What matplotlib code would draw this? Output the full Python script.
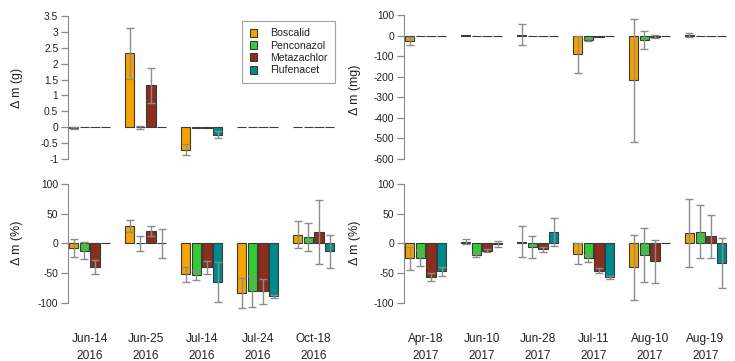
import numpy as np
import matplotlib
matplotlib.use("Agg")
import matplotlib.pyplot as plt
from matplotlib.patches import Patch

plt.rcParams['font.family'] = ['Liberation Sans', 'DejaVu Sans']

compounds = ["Boscalid", "Penconazol", "Metazachlor", "Flufenacet"]
colors = ["#F5A300", "#33CC33", "#8B2E1E", "#008B8B"]

dates_2016 = ["Jun-14\n2016", "Jun-25\n2016", "Jul-14\n2016", "Jul-24\n2016", "Oct-18\n2016"]
dates_2017 = ["Apr-18\n2017", "Jun-10\n2017", "Jun-28\n2017", "Jul-11\n2017", "Aug-10\n2017", "Aug-19\n2017"]

# 2016, absolute change (g)
bosc_g = [-0.03, 2.32, -0.70, 0.0, 0.01]
penc_g = [0.0, 0.0, -0.03, 0.0, 0.0]
meta_g = [0.0, 1.32, -0.02, 0.0, 0.0]
fluf_g = [0.0, 0.0, -0.23, 0.0, 0.0]
bosc_g_err = [0.03, 0.79, 0.16, 0, 0]
penc_g_err = [0, 0.05, 0, 0, 0]
meta_g_err = [0, 0.55, 0, 0, 0]
fluf_g_err = [0, 0, 0.12, 0, 0]

# 2017, absolute change (mg)
bosc_mg = [-26, 2, 5, -92, -218, 3]
penc_mg = [0, 0, 0, -22, -21, 0]
meta_mg = [-2, 0, -2, -6, -6, 0]
fluf_mg = [0, 0, 0, -2, 0, 0]
bosc_mg_err = [20, 0, 50, 92, 299, 11]
penc_mg_err = [0, 0, 0, 5, 43, 0]
meta_mg_err = [0, 0, 0, 0, 8, 0]
fluf_mg_err = [0, 0, 0, 0, 0, 0]

# 2016, relative change (%)
bosc_p16 = [-7, 29, -52, -83, 15]
penc_p16 = [-12, 0, -53, -80, 11]
meta_p16 = [-39, 21, -40, -80, 19]
fluf_p16 = [0, 0, -65, -89, -13]
bosc_p16_err = [15, 10, 12, 25, 23]
penc_p16_err = [14, 12.5, 8.5, 26, 23]
meta_p16_err = [11.5, 9, 11, 21, 54]
fluf_p16_err = [0, 24, 34, 3, 28]

# 2017, relative change (%)
bosc_p17 = [-25, 3, 3, -17, -40, 17]
penc_p17 = [-25, -20, -6, -25, -20, 20]
meta_p17 = [-56, -12, -10, -46, -30, 12]
fluf_p17 = [-47, -1, 19, -57, 0, -32]
bosc_p17_err = [19, 4, 26, 17, 55, 57]
penc_p17_err = [13.5, 2, 18.5, 6, 45.5, 44]
meta_p17_err = [6.5, 2, 4, 4, 36.5, 36.5]
fluf_p17_err = [7, 5, 23, 3, 0, 42]

W, H = 735, 361
fig = plt.figure(figsize=(W / 100, H / 100), dpi=100)

STEP, PERIOD = 1.15, 6.0
TXT = "#222222"
AXC = "#8a8a8a"


def px_axes(x0, x1, ytop, ybot):
    return fig.add_axes([x0 / W, 1 - ybot / H, (x1 - x0) / W, (ybot - ytop) / H])


def bars(ax, series, errs, ngroups):
    base = np.arange(ngroups) * PERIOD
    for j, (vals, err) in enumerate(zip(series, errs)):
        x = base + j * STEP + 0.5
        ax.bar(x, vals, width=1.0, color=colors[j], edgecolor="#3a3a3a", linewidth=0.8, zorder=2)
        vals = np.asarray(vals, float)
        err = np.asarray(err, float)
        m = err > 0
        if m.any():
            _, caps, lines = ax.errorbar(x[m], vals[m], yerr=err[m], fmt="none", ecolor="#8c8c8c",
                                         elinewidth=1.0, capsize=2.8, capthick=1.0, zorder=3)
            for c in caps:
                c.set_color("#4a4a4a")
    ax.set_xlim(-0.1, (ngroups - 1) * PERIOD + 3 * STEP + 1.15)
    return base + (3 * STEP + 1) / 2


def style(ax, ticks, fmt, lo, hi):
    for s in ["top", "right", "bottom"]:
        ax.spines[s].set_visible(False)
    ax.spines["left"].set_color(AXC)
    ax.spines["left"].set_bounds(lo, hi)
    ax.set_yticks(ticks)
    ax.set_yticklabels([fmt(t) for t in ticks])
    ax.tick_params(axis="y", length=5, width=0.9, color=AXC, labelsize=7.4, labelcolor=TXT, pad=2)
    ax.patch.set_alpha(0)


# top left
ax1 = px_axes(68, 68 + 28.7 * 9.33, 12.8, 165.4)
bars(ax1, [bosc_g, penc_g, meta_g, fluf_g], [bosc_g_err, penc_g_err, meta_g_err, fluf_g_err], 5)
ax1.set_ylim(-1.2, 3.6)
style(ax1, np.arange(-1, 3.51, 0.5), lambda t: f"{t:g}", -1, 3.5)
ax1.set_xticks([])

# top right
ax2 = px_axes(404, 404 + 34.7 * 9.33, 12.9, 163.1)
bars(ax2, [bosc_mg, penc_mg, meta_mg, fluf_mg], [bosc_mg_err, penc_mg_err, meta_mg_err, fluf_mg_err], 6)
ax2.set_ylim(-620, 110)
style(ax2, np.arange(-600, 101, 100), lambda t: f"{t:g}", -600, 100)
ax2.set_xticks([])

# bottom left
ax3 = px_axes(68, 68 + 28.7 * 9.33, 181.0, 311.9)
c3 = bars(ax3, [bosc_p16, penc_p16, meta_p16, fluf_p16],
          [bosc_p16_err, penc_p16_err, meta_p16_err, fluf_p16_err], 5)
ax3.set_ylim(-115, 105)
style(ax3, [-100, -50, 0, 50, 100], lambda t: f"{t:g}", -100, 100)
ax3.set_xticks(c3)
ax3.set_xticklabels(dates_2016, linespacing=1.55)
ax3.tick_params(axis="x", length=0, pad=15.5, labelsize=8.6, labelcolor=TXT)

# bottom right
ax4 = px_axes(404, 404 + 34.7 * 9.33, 181.0, 311.9)
c4 = bars(ax4, [bosc_p17, penc_p17, meta_p17, fluf_p17],
          [bosc_p17_err, penc_p17_err, meta_p17_err, fluf_p17_err], 6)
ax4.set_ylim(-115, 105)
style(ax4, [-100, -50, 0, 50, 100], lambda t: f"{t:g}", -100, 100)
ax4.set_xticks(c4)
ax4.set_xticklabels(dates_2017, linespacing=1.55)
ax4.tick_params(axis="x", length=0, pad=15.5, labelsize=8.6, labelcolor=TXT)

# axis titles
for x, y, s in [(17, 88, "Δ m (g)"), (355, 90, "Δ m (mg)"), (17, 243, "Δ m (%)"), (355, 243, "Δ m (%)")]:
    fig.text(x / W, 1 - y / H, s, rotation=90, ha="center", va="center", fontsize=9, color=TXT)

handles = [Patch(facecolor=c, edgecolor="#3a3a3a", linewidth=0.8) for c in colors]
leg = fig.legend(handles, compounds, loc="upper right", bbox_to_anchor=(335 / W, 1 - 21 / H),
                 fontsize=7.6, frameon=True, fancybox=False, edgecolor="#8a8a8a",
                 handlelength=0.75, handleheight=0.75, handletextpad=1.2, labelspacing=0.22,
                 borderpad=0.7, borderaxespad=0)
leg.get_frame().set_linewidth(0.8)
for t in leg.get_texts():
    t.set_color(TXT)

fig.savefig("out.png", dpi=100)
